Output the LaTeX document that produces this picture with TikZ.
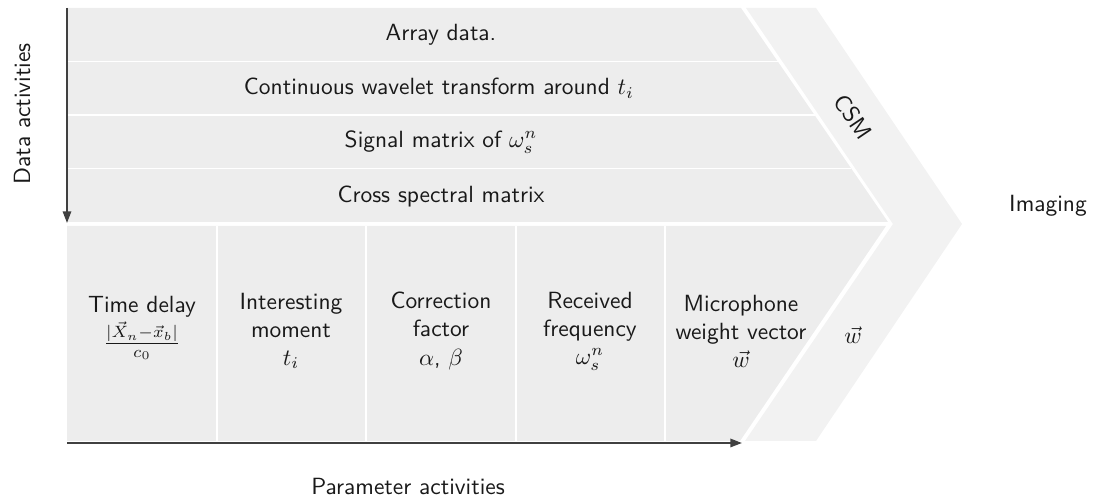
\documentclass[tikz,border=0pt]{standalone}
\usetikzlibrary{arrows.meta,calc}
\renewcommand{\familydefault}{\sfdefault}
\begin{document}
\begin{tikzpicture}[x=0.015cm,y=-0.015cm]
	\tikzset{blockfill/.style={fill=black!7},
		bandfill/.style={fill=black!5},
		sepline/.style={draw=white, line width=0.7pt},
		lbl/.style={align=center, inner sep=1pt, text=black!90},
		axis/.style={draw=black!75, line width=0.8pt, -{Triangle[length=5pt,width=3.6pt]}}}
	\useasboundingbox (0,0) rectangle (1094,503);
	% corners of the two blocks and the band
	\coordinate (tl) at (67,8);
	\coordinate (tr) at (741,8);
	\coordinate (tip) at (888,222);
	\coordinate (bl) at (67,222);
	\coordinate (ll) at (67,226);
	\coordinate (lr) at (886,226);
	\coordinate (lb) at (740,441);
	\coordinate (lbl) at (67,441);
	% CSM band
	\fill[bandfill] (746,8) -- (816,8) -- (962,224) -- (816,441) -- (745,441) -- (893,224) -- cycle;
	% data activities block
	\fill[blockfill] (tl) -- (tr) -- (tip) -- (bl) -- cycle;
	\foreach \t/\n in {0.25/a,0.5/b,0.75/c} {
		\coordinate (e\n) at ($(tr)!\t!(tip)$);
		\draw[sepline] (e\n -| tl) -- (e\n);
	}
	% parameter activities block
	\fill[blockfill] (ll) -- (lr) -- (lb) -- (lbl) -- cycle;
	\foreach \x in {217,366,516,665}
		\draw[sepline] (\x,226) -- (\x,441);
	% texts
	\node[lbl] (r1) at (441,35) {Array data.};
	\node[lbl] (r2) at (439,88) {Continuous wavelet transform around $t_i$};
	\node[lbl] (r3) at (441,142) {Signal matrix of $\omega_s^n$};
	\node[lbl] (r4) at (441,197) {Cross spectral matrix};
	\node[lbl] (c1) at (142,328) {Time delay\\[1pt] $\frac{|\vec{X}_n-\vec{x}_b|}{c_0}$};
	\node[lbl] (c2) at (291,331) {Interesting\\ moment\\ $t_i$};
	\node[lbl] (c3) at (441,331) {Correction\\ factor\\ $\alpha$, $\beta$};
	\node[lbl] (c4) at (590,331) {Received\\ frequency\\ $\omega_s^n$};
	\node[lbl] (c5) at (741,331) {Microphone\\ weight vector\\ $\vec{w}$};
	\node[lbl] (w) at (853,335) {$\vec{w}$};
	\node[lbl, rotate=-56] (csm) at (853,117) {CSM};
	\node[lbl] (img) at (1048,206) {Imaging};
	\node[lbl, rotate=90] (dact) at (22,114) {Data activities};
	\node[lbl] (pact) at (408,487) {Parameter activities};
	% axes
	\coordinate (dstart) at (67,8);
	\coordinate (dend) at (67,223);
	\coordinate (pstart) at (67,443);
	\coordinate (pend) at (742,443);
	\draw[axis] (dstart) -- (dend);
	\draw[axis] (pstart) -- (pend);
\end{tikzpicture}
\end{document}
